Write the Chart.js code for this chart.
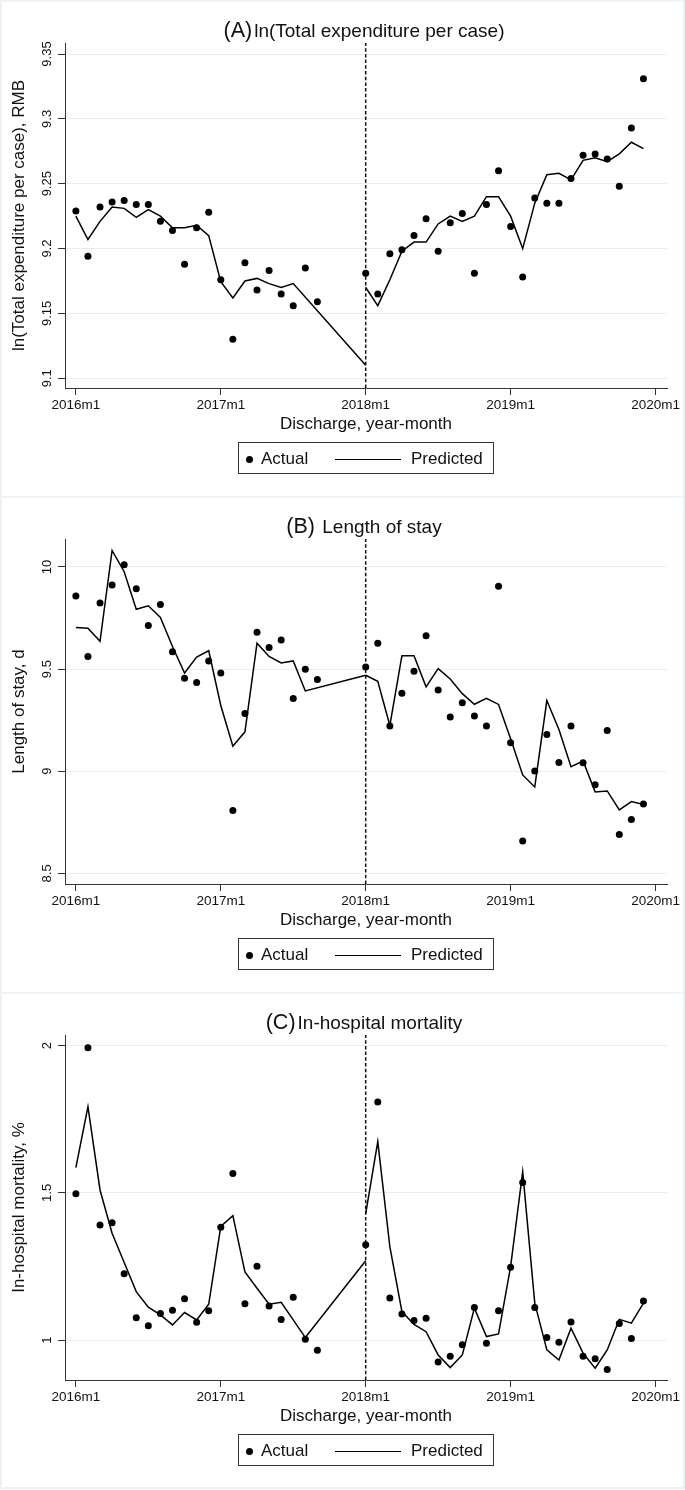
<!DOCTYPE html>
<html>
<head>
<meta charset="utf-8">
<script src="https://cdn.jsdelivr.net/npm/chart.js@4/dist/chart.umd.min.js"></script>
<style>
  html, body { margin: 0; padding: 0; background: #fff; }
  body { width: 685px; height: 1490px; position: relative; overflow: hidden;
         font-family: "Liberation Sans", Arial, Helvetica, sans-serif; color: #111; }
  .panel { position: absolute; left: 0; width: 685px; height: 496px; }
  .panel canvas { position: absolute; left: 0; top: 0; }
  .frame { position: absolute; left: 0; width: 685px; box-sizing: border-box;
           border: 2px solid #edf2f2; pointer-events: none; }
  .title { position: absolute; left: 364px; top: 18px; transform: translateX(-50%);
           white-space: nowrap; font-size: 19px; line-height: 24px; }
  .title .tag { font-size: 21.5px; margin-right: 2px; }
  .legend { position: absolute; left: 238px; top: 442px; width: 256px; height: 32px;
            box-sizing: border-box; border: 1px solid #333; font-size: 17px; }
  .legend .dot { position: absolute; left: 6.5px; top: 12.5px; width: 7px; height: 7px;
                 border-radius: 50%; background: #000; }
  .legend .t1 { position: absolute; left: 22px; top: 6px; line-height: 20px; }
  .legend .ln { position: absolute; left: 96px; top: 15.5px; width: 66px; height: 1.5px; background: #000; }
  .legend .t2 { position: absolute; left: 172px; top: 6px; line-height: 20px; }
</style>
</head>
<body>

<div class="panel" id="pA" style="top:0px"><canvas id="cA" width="685" height="496"></canvas>
  <div class="title"><span class="tag">(A)</span>ln(Total expenditure per case)</div>
  <div class="legend"><div class="dot"></div><div class="t1">Actual</div><div class="ln"></div><div class="t2">Predicted</div></div>
</div>
<div class="panel" id="pB" style="top:496px"><canvas id="cB" width="685" height="496"></canvas>
  <div class="title"><span class="tag">(B)</span> Length of stay</div>
  <div class="legend"><div class="dot"></div><div class="t1">Actual</div><div class="ln"></div><div class="t2">Predicted</div></div>
</div>
<div class="panel" id="pC" style="top:992px"><canvas id="cC" width="685" height="496"></canvas>
  <div class="title"><span class="tag">(C)</span>In-hospital mortality</div>
  <div class="legend"><div class="dot"></div><div class="t1">Actual</div><div class="ln"></div><div class="t2">Predicted</div></div>
</div>
<div class="frame" style="top:0px;height:498px"></div>
<div class="frame" style="top:496px;height:498px"></div>
<div class="frame" style="top:992px;height:497px"></div>

<script>
// ---------- DATA ----------
// month index: 0 = 2016m1 ... 47 = 2019m12
const xTickValues = [0, 12, 24, 36, 48];
const xTickLabels = ['2016m1', '2017m1', '2018m1', '2019m1', '2020m1'];
const interventionMonth = 24; // 2018m1

const actualMonths = [0,1,2,3,4,5,6,7,8,9,10,11,12,13,14,15,16,17,18,19,20,
                      24,25,26,27,28,29,30,31,32,33,34,35,36,37,38,39,40,41,42,43,44,45,46,47];
const postMonths = [24,25,26,27,28,29,30,31,32,33,34,35,36,37,38,39,40,41,42,43,44,45,46,47];

// (A) ln(Total expenditure per case)
const actualA = [9.229, 9.194, 9.232, 9.236, 9.237, 9.234, 9.234, 9.221, 9.214, 9.188, 9.216,
                 9.228, 9.176, 9.130, 9.189, 9.168, 9.183, 9.165, 9.156, 9.185, 9.159,
                 9.181, 9.165, 9.196, 9.199, 9.210, 9.223, 9.198, 9.220, 9.227, 9.181, 9.234, 9.260,
                 9.217, 9.178, 9.239, 9.235, 9.235, 9.254, 9.272, 9.273, 9.269, 9.248, 9.293, 9.331];
const predPreMonthsA = [0,1,2,3,4,5,6,7,8,9,10,11,12,13,14,15,16,17,18,24];
const predPreA = [9.225, 9.207, 9.221, 9.232, 9.231, 9.224, 9.230, 9.225, 9.216, 9.216, 9.218,
                  9.210, 9.1745, 9.162, 9.175, 9.177, 9.173, 9.170, 9.173, 9.110];
const predPostA = [9.170, 9.156, 9.176, 9.198, 9.205, 9.205, 9.219, 9.225, 9.221, 9.225, 9.240, 9.240,
                   9.225, 9.200, 9.235, 9.257, 9.258, 9.253, 9.268, 9.270, 9.267, 9.273, 9.282, 9.277];
const yTicksA = [9.1, 9.15, 9.2, 9.25, 9.3, 9.35];
const yTickLabelsA = ['9.1', '9.15', '9.2', '9.25', '9.3', '9.35'];
const yRangeA = [9.0925, 9.3585];

// (B) Length of stay
const actualB = [9.858, 9.562, 9.824, 9.912, 10.011, 9.894, 9.714, 9.816, 9.585, 9.455, 9.434,
                 9.540, 9.481, 8.808, 9.283, 9.681, 9.606, 9.642, 9.356, 9.499, 9.449,
                 9.510, 9.627, 9.221, 9.382, 9.489, 9.663, 9.398, 9.266, 9.335, 9.271, 9.222, 9.906,
                 9.139, 8.658, 9.001, 9.180, 9.043, 9.222, 9.042, 8.934, 9.200, 8.690, 8.764, 8.840];
const predPreMonthsB = [0,1,2,3,4,5,6,7,8,9,10,11,12,13,14,15,16,17,18,19,24];
const predPreB = [9.704, 9.700, 9.636, 10.081, 9.977, 9.793, 9.810, 9.753, 9.611, 9.481, 9.559,
                  9.590, 9.322, 9.123, 9.193, 9.627, 9.562, 9.530, 9.540, 9.393, 9.470];
const predPostB = [9.470, 9.440, 9.224, 9.566, 9.566, 9.413, 9.502, 9.452, 9.380, 9.328, 9.357, 9.327,
                   9.159, 8.982, 8.923, 9.346, 9.2045, 9.022, 9.050, 8.899, 8.9035, 8.811, 8.8515, 8.837];
const yTicksB = [8.5, 9, 9.5, 10];
const yTickLabelsB = ['8.5', '9', '9.5', '10'];
const yRangeB = [8.448, 10.137];

// (C) In-hospital mortality, %
const actualC = [1.497, 1.993, 1.391, 1.399, 1.226, 1.076, 1.049, 1.0905, 1.102, 1.141, 1.061,
                 1.100, 1.3835, 1.566, 1.124, 1.251, 1.1165, 1.070, 1.146, 1.003, 0.966,
                 1.324, 1.809, 1.143, 1.089, 1.067, 1.075, 0.9265, 0.946, 0.985, 1.111, 0.990, 1.100,
                 1.248, 1.535, 1.111, 1.009, 0.993, 1.062, 0.946, 0.937, 0.9005, 1.057, 1.006, 1.1335];
const predPreMonthsC = [0,1,2,3,4,5,6,7,8,9,10,11,12,13,14,15,16,17,18,19,24];
const predPreC = [1.586, 1.793, 1.510, 1.363, 1.264, 1.165, 1.112, 1.086, 1.052, 1.094, 1.069,
                  1.122, 1.386, 1.423, 1.232, 1.1765, 1.122, 1.129, 1.069, 1.009, 1.270];
const predPostC = [1.43, 1.674, 1.318, 1.097, 1.054, 1.029, 0.950, 0.907, 0.950, 1.109, 1.0125, 1.0215,
                   1.250, 1.572, 1.126, 0.967, 0.933, 1.041, 0.956, 0.905, 0.967, 1.071, 1.058, 1.126];
const yTicksC = [1, 1.5, 2];
const yTickLabelsC = ['1', '1.5', '2'];
const yRangeC = [0.865, 2.036];

const yTitleA = 'ln(Total expenditure per case), RMB';
const yTitleB = 'Length of stay, d';
const yTitleC = 'In-hospital mortality, %';
const xTitle = 'Discharge, year-month';

// ---------- RENDER ----------
const FONT = '"Liberation Sans", Arial, Helvetica, sans-serif';
const pts = (xs, ys) => xs.map((x, i) => ({ x: x, y: ys[i] }));

const yLabelPlugin = {
  id: 'yLabels',
  afterDraw(chart) {
    const s = chart.scales.y;
    const labels = chart.options.plugins.yLabels.labels;
    const ctx = chart.ctx;
    ctx.save();
    ctx.fillStyle = '#111';
    ctx.font = '13px ' + FONT;
    ctx.textAlign = 'center';
    ctx.textBaseline = 'middle';
    s.ticks.forEach((t, i) => {
      const y = s.getPixelForValue(t.value);
      ctx.save();
      ctx.translate(47, y);
      ctx.rotate(-Math.PI / 2);
      ctx.fillText(labels[i], 0, 0);
      ctx.restore();
    });
    ctx.restore();
  }
};

function makeChart(id, actual, preMonths, pre, post, yTicks, yLabels, yRange, yTitle) {
  const ctx = document.getElementById(id);
  return new Chart(ctx, {
    type: 'line',
    data: {
      datasets: [
        { label: 'Predicted (pre)', data: pts(preMonths, pre), borderColor: '#000', borderWidth: 1.5,
          pointRadius: 0, tension: 0, fill: false },
        { label: 'Predicted (post)', data: pts(postMonths, post), borderColor: '#000', borderWidth: 1.5,
          pointRadius: 0, tension: 0, fill: false },
        { label: '2018m1', data: [{ x: interventionMonth, y: yRange[0] }, { x: interventionMonth, y: yRange[1] }],
          borderColor: '#111', borderWidth: 1.5, borderDash: [3.5, 2.2], pointRadius: 0, fill: false },
        { label: 'Actual', data: pts(actualMonths, actual), showLine: false, pointRadius: 3.5,
          pointHoverRadius: 3.5, pointBackgroundColor: '#000', pointBorderWidth: 0, borderColor: '#000' }
      ]
    },
    options: {
      responsive: false,
      animation: false,
      layout: { padding: { left: 0, right: 18, top: 43, bottom: 58 } },
      plugins: { legend: { display: false }, tooltip: { enabled: false }, yLabels: { labels: yLabels } },
      scales: {
        x: {
          type: 'linear', min: -0.9, max: 48.95,
          afterBuildTicks: s => { s.ticks = xTickValues.map(v => ({ value: v })); },
          afterFit: s => { s.height = 50; },
          ticks: { autoSkip: false, maxRotation: 0, minRotation: 0, padding: 2, color: '#111',
                   font: { family: FONT, size: 13.5 },
                   callback: (v, i) => xTickLabels[i] },
          grid: { drawOnChartArea: false, drawTicks: true, tickLength: 7, tickColor: '#333', tickWidth: 1 },
          border: { display: true, color: '#333', width: 1 },
          title: { display: true, text: xTitle, color: '#111', font: { family: FONT, size: 17 },
                   padding: { top: 0, bottom: 3 } }
        },
        y: {
          type: 'linear', min: yRange[0], max: yRange[1],
          afterBuildTicks: s => { s.ticks = yTicks.map(v => ({ value: v })); },
          afterFit: s => { s.width = 65; },
          ticks: { display: false },
          grid: { drawOnChartArea: true, color: '#e6eef1', lineWidth: 1, drawTicks: true, tickLength: 7,
                  tickColor: '#333', tickWidth: 1 },
          border: { display: true, color: '#333', width: 1 },
          title: { display: true, text: yTitle, color: '#111', font: { family: FONT, size: 17 },
                   padding: { top: 9, bottom: 0 } }
        }
      }
    },
    plugins: [yLabelPlugin]
  });
}

makeChart('cA', actualA, predPreMonthsA, predPreA, predPostA, yTicksA, yTickLabelsA, yRangeA, yTitleA);
makeChart('cB', actualB, predPreMonthsB, predPreB, predPostB, yTicksB, yTickLabelsB, yRangeB, yTitleB);
makeChart('cC', actualC, predPreMonthsC, predPreC, predPostC, yTicksC, yTickLabelsC, yRangeC, yTitleC);
</script>
</body>
</html>
